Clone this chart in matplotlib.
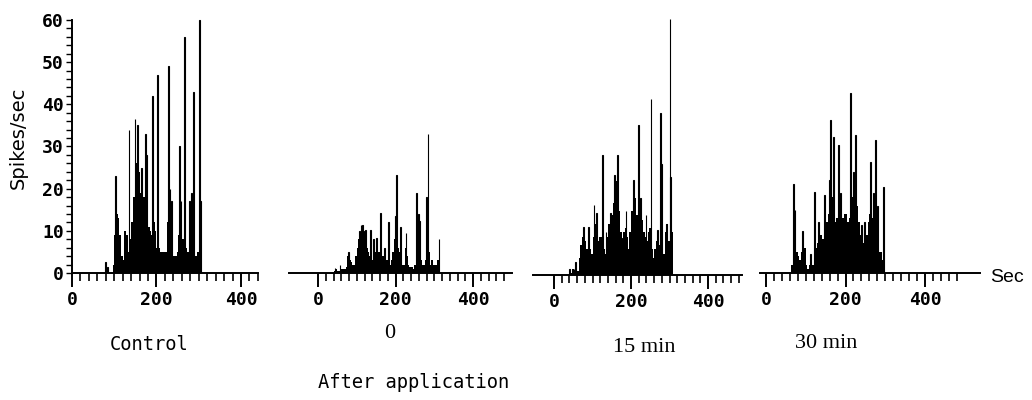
import numpy as np
import matplotlib
matplotlib.use("Agg")
import matplotlib.pyplot as plt

# 4-s bins: background firing level, plus the single tall spikes on top
BIN = 4

ctrl_start = 96
ctrl_env = [2, 9, 14, 13, 9, 4, 3, 10, 9, 5, 8, 12, 18, 25, 26, 24, 19, 16, 18, 24,
            20, 11, 10, 9, 12, 10, 6, 6, 5, 5, 5, 5, 12, 14, 12, 8, 4, 4, 5, 9,
            10, 8, 5, 6, 5, 10, 13, 12, 8, 4, 5, 6, 8]
ctrl_spk_t = [80, 84, 103, 135, 149, 155, 165, 173, 177, 191, 203, 228, 232, 236,
              254, 258, 267, 279, 283, 287, 301, 305]
ctrl_spk_h = [2.5, 1.5, 23, 34, 36.5, 35, 25, 33, 28, 42, 47, 49, 20, 17,
              30, 17, 56, 17, 19, 43, 60, 17]

min0_start = 40
min0_env = [0.5, 1, 0.5, 0.5, 1.5, 1, 1, 1, 1.5, 4, 3, 2.5, 2, 2, 4, 6, 8, 9, 9, 7,
            6, 6, 5, 4, 4, 3, 4, 5, 4, 5, 6, 4, 4, 3, 3, 2, 2, 3, 5, 8,
            7, 6, 5, 4, 2, 2, 6, 4, 2, 1.5, 1.5, 1, 2, 4, 6, 5, 3, 2, 2, 3,
            6, 5, 2, 3, 2, 2, 2, 3, 1]
min0_spk_t = [44, 57, 78, 107, 111, 114, 119, 123, 136, 144, 151, 162, 171, 181,
              199, 203, 213, 227, 255, 260, 262, 280, 284, 312]
min0_spk_h = [1.2, 2, 5, 10, 11.5, 11.5, 10, 10.3, 10.3, 8, 8.3, 14.2, 6, 12.2,
              13.4, 23.2, 11, 9.5, 19, 14, 12.4, 18, 33, 8]

min15_start = 40
min15_env = [1, 0.5, 1.5, 1, 2.5, 1, 4, 7, 9, 9, 8, 6, 9, 6, 5, 9, 12, 10, 8, 9,
             9, 7, 6, 5, 9, 12, 12, 14, 17, 22, 22, 20, 15, 10, 7, 10, 11, 9, 6, 10,
             15, 19, 18, 14, 14, 16, 16, 13, 10, 9, 8, 10, 11, 6, 4, 6, 8, 8, 7, 5,
             4, 5, 10, 12, 8, 12, 10]
min15_spk_t = [40, 52, 56, 76, 89, 104, 111, 125, 135, 146, 158, 164, 178, 187,
               206, 220, 225, 239, 252, 268, 277, 280, 292, 301, 303]
min15_spk_h = [1.5, 1.5, 3, 11.3, 11.3, 16.5, 14.5, 28.2, 10, 14.5, 23.5, 28.2, 8.7, 15,
               22.4, 35.3, 18, 14, 41.2, 10.6, 38, 26, 12, 60, 23]

min30_start = 64
min30_env = [2, 14, 9, 5, 4, 3, 5, 9, 6, 2, 1, 2, 3, 2, 5, 6, 7, 9, 9, 8,
             8, 10, 12, 14, 17, 18, 15, 12, 13, 14, 14, 13, 13, 14, 14, 12, 13, 16, 18, 19,
             20, 16, 12, 9, 10, 7, 8, 9, 12, 14, 13, 12, 13, 9, 7, 5, 5, 3, 6]
min30_spk_t = [70, 73, 92, 112, 123, 132, 147, 160, 163, 170, 182, 188, 213, 220,
               226, 241, 248, 262, 270, 276, 281, 295]
min30_spk_h = [21, 15, 10, 4.5, 19.3, 12, 18.5, 22, 36.4, 32.3, 30.4, 19, 42.8, 24,
               32.7, 11.5, 12, 26.4, 19, 31.5, 16, 20.5]

W, H = 1032, 400
fig = plt.figure(figsize=(W / 100, H / 100), dpi=100)

tickfont = dict(family="DejaVu Sans Mono", weight="bold", size=13)


def make_axes(x0, sec_px, xlim, base, unit_px, top=62):
    left = x0 + xlim[0] * sec_px
    width = (xlim[1] - xlim[0]) * sec_px
    ax = fig.add_axes([left / W, (H - base) / H, width / W, top * unit_px / H])
    ax.set_xlim(*xlim)
    ax.set_ylim(0, top)
    return ax


def draw_panel(ax, start, env, spk_t, spk_h, spine_to, tick_to):
    t = start + BIN * np.arange(len(env))
    ax.bar(t, env, width=BIN, align="edge", color="black", linewidth=0)
    ax.bar(spk_t, spk_h, width=2, color="black", edgecolor="black", linewidth=0.8)
    for s in ["top", "right", "left"]:
        ax.spines[s].set_visible(False)
    ax.spines["bottom"].set_linewidth(1.4)
    ax.spines["bottom"].set_bounds(ax.get_xlim()[0], spine_to)
    ax.set_xticks([0, 200, 400])
    ax.set_xticks(np.arange(0, tick_to + 1, 20), minor=True)
    ax.tick_params(axis="x", which="major", direction="out", length=10, width=1.4, pad=3)
    ax.tick_params(axis="x", which="minor", direction="out", length=5.8, width=1.2)
    ax.set_xticklabels(["0", "200", "400"], fontdict=tickfont)
    ax.set_yticks([])


panels = [
    (make_axes(72, 0.4225, (0, 470), 273, 4.217), ctrl_start, ctrl_env, ctrl_spk_t, ctrl_spk_h, 440, 440),
    (make_axes(318, 0.3875, (-75, 510), 273, 4.217), min0_start, min0_env, min0_spk_t, min0_spk_h, 500, 480),
    (make_axes(554, 0.385, (-55, 490), 275, 4.26), min15_start, min15_env, min15_spk_t, min15_spk_h, 488, 480),
    (make_axes(766, 0.3975, (-15, 540), 273, 4.217), min30_start, min30_env, min30_spk_t, min30_spk_h, 538, 480),
]
for ax, start, env, st, sh, sp_to, tk_to in panels:
    draw_panel(ax, start, env, st, sh, sp_to, tk_to)

# y axis only on the first panel
ax0 = panels[0][0]
ax0.spines["left"].set_visible(True)
ax0.spines["left"].set_linewidth(1.4)
ax0.spines["left"].set_bounds(0, 60)
ax0.set_yticks(np.arange(0, 61, 10))
ax0.set_yticks(np.arange(0, 61, 2), minor=True)
ax0.set_yticklabels([str(v) for v in range(0, 61, 10)], fontdict=tickfont)
ax0.tick_params(axis="y", which="both", direction="out", length=4, width=1.0, pad=2)


def ftext(x, y, s, **kw):
    fig.text(x / W, 1 - y / H, s, ha="center", va="center", **kw)


ftext(18, 138, "Spikes/sec", rotation=90, family="DejaVu Sans", fontsize=14)
ftext(149, 345, "Control", family="DejaVu Sans Mono", fontsize=13.5)
ftext(390, 333, "0", family="Liberation Serif", fontsize=16)
ftext(414, 383, "After application", family="DejaVu Sans Mono", fontsize=13.5)
ftext(644, 348, "15 min", family="Liberation Serif", fontsize=16)
ftext(826, 343, "30 min", family="Liberation Serif", fontsize=16)
fig.text(990 / W, 1 - 277 / H, "Sec", ha="left", va="center", family="Liberation Sans", fontsize=14)

fig.savefig("out.png", dpi=100)
